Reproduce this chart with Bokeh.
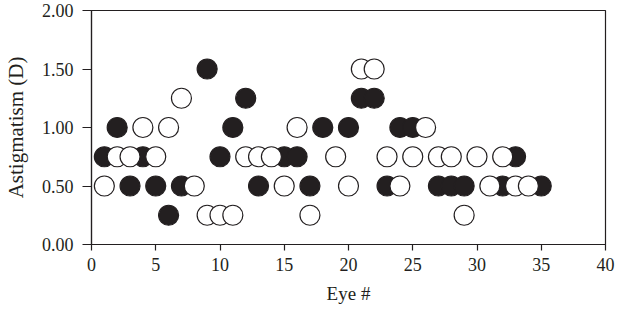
from bokeh.plotting import figure
from bokeh.models import FixedTicker
from bokeh.embed import file_html
from bokeh.resources import INLINE

# Filled (black) series
black_eye = [1, 2, 3, 4, 5, 6, 7, 9, 10, 11, 12, 13, 15, 16, 17, 18, 20, 21, 22, 23, 24, 25, 27, 28, 29, 32, 33, 35]
black_ast = [0.75, 1.00, 0.50, 0.75, 0.50, 0.25, 0.50, 1.50, 0.75, 1.00, 1.25, 0.50, 0.75, 0.75, 0.50, 1.00, 1.00, 1.25, 1.25, 0.50, 1.00, 1.00, 0.50, 0.50, 0.50, 0.50, 0.75, 0.50]

# Open (white) series
open_eye = [1, 2, 3, 4, 5, 6, 7, 8, 9, 10, 11, 12, 13, 14, 15, 16, 17, 19, 20, 21, 22, 23, 24, 25, 26, 27, 28, 29, 30, 31, 32, 33, 34]
open_ast = [0.50, 0.75, 0.75, 1.00, 0.75, 1.00, 1.25, 0.50, 0.25, 0.25, 0.25, 0.75, 0.75, 0.75, 0.50, 1.00, 0.25, 0.75, 0.50, 1.50, 1.50, 0.75, 0.50, 0.75, 1.00, 0.75, 0.75, 0.25, 0.75, 0.50, 0.75, 0.50, 0.50]

x_ticks = [0, 5, 10, 15, 20, 25, 30, 35, 40]
y_ticks = [0.0, 0.5, 1.0, 1.5, 2.0]
y_tick_labels = ["0.00", "0.50", "1.00", "1.50", "2.00"]

INK = "#231f20"
FONT = "Liberation Serif"

p = figure(width=616, height=308, x_range=(0, 40), y_range=(0, 2),
           output_backend="svg", toolbar_location=None,
           min_border_left=84, min_border_right=11, min_border_top=10, min_border_bottom=64)

p.grid.visible = False
p.background_fill_color = "white"
p.border_fill_color = "white"
p.outline_line_color = INK
p.outline_line_width = 1.2

p.scatter(black_eye, black_ast, size=20, fill_color=INK, line_color=INK, line_width=1.2)
p.scatter(open_eye, open_ast, size=20, fill_color="white", line_color=INK, line_width=1.2)

p.xaxis.ticker = FixedTicker(ticks=x_ticks)
p.yaxis.ticker = FixedTicker(ticks=y_ticks)
p.yaxis.major_label_overrides = {t: l for t, l in zip(y_ticks, y_tick_labels)}

for ax in (p.xaxis[0], p.yaxis[0]):
    ax.axis_line_color = INK
    ax.axis_line_width = 1.2
    ax.major_tick_line_color = INK
    ax.major_tick_line_width = 1.2
    ax.major_tick_in = 0
    ax.minor_tick_line_color = None
    ax.major_label_text_font = FONT
    ax.major_label_text_font_size = "18px"
    ax.major_label_text_color = INK
    ax.axis_label_text_font = FONT
    ax.axis_label_text_font_style = "normal"
    ax.axis_label_text_color = INK

p.xaxis.axis_label_text_font_size = "19px"
p.yaxis.axis_label_text_font_size = "21px"
p.xaxis.major_tick_out = 6
p.yaxis.major_tick_out = 9
p.xaxis.major_label_standoff = 7
p.yaxis.major_label_standoff = 9
p.xaxis.axis_label = "Eye #"
p.yaxis.axis_label = "Astigmatism (D)"
p.xaxis.axis_label_standoff = 9
p.yaxis.axis_label_standoff = 11

open("out.html", "w").write(file_html(p, INLINE))
